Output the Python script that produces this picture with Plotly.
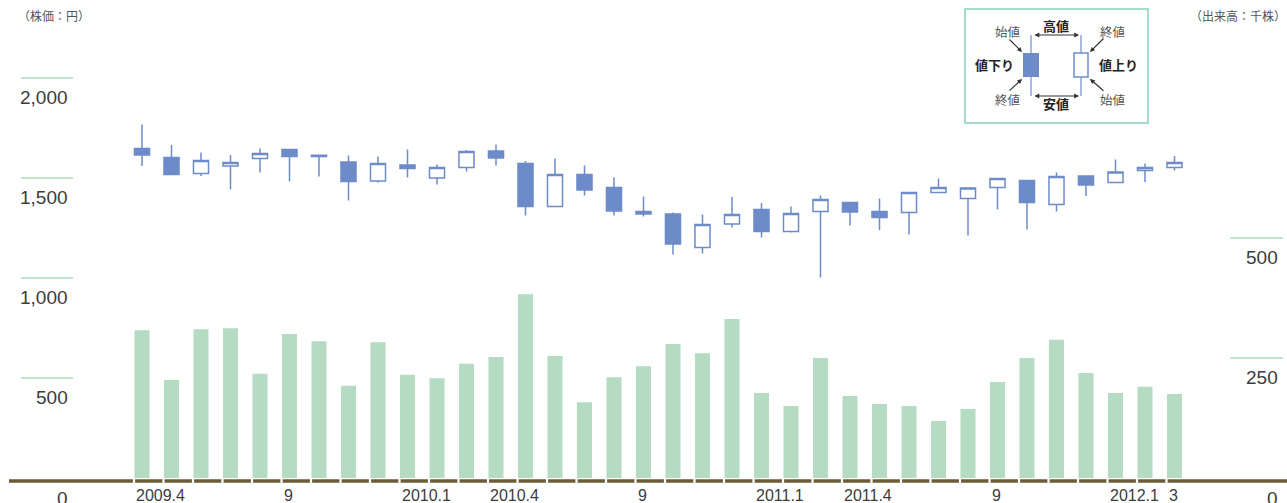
import plotly.graph_objects as go

# ---------------- data ----------------
months = list(range(36))  # 2009.4 ... 2012.3
tick_months = [0, 5, 9, 12, 17, 21, 24, 29, 33, 35]
tick_labels = ["2009.4", "9", "2010.1", "2010.4", "9", "2011.1", "2011.4", "9", "2012.1", "3"]

open_ = [1648, 1603, 1523, 1560, 1598, 1643, 1608, 1580, 1485, 1565, 1500, 1552,
         1635, 1573, 1358, 1517, 1453, 1332, 1320, 1153, 1270, 1343, 1232, 1333,
         1378, 1332, 1327, 1428, 1398, 1452, 1487, 1368, 1510, 1477, 1538, 1552]
high = [1768, 1665, 1628, 1615, 1648, 1643, 1615, 1612, 1608, 1643, 1568, 1640,
        1668, 1585, 1598, 1562, 1503, 1407, 1328, 1318, 1405, 1375, 1358, 1413,
        1378, 1397, 1428, 1498, 1450, 1498, 1487, 1528, 1510, 1593, 1572, 1610]
low = [1560, 1518, 1510, 1443, 1528, 1482, 1507, 1388, 1477, 1502, 1468, 1532,
       1563, 1312, 1358, 1412, 1313, 1307, 1118, 1123, 1252, 1202, 1228, 1002,
       1263, 1240, 1218, 1428, 1213, 1343, 1243, 1332, 1410, 1477, 1480, 1537]
close = [1615, 1518, 1588, 1578, 1623, 1607, 1614, 1482, 1572, 1547, 1552, 1633,
         1600, 1357, 1517, 1440, 1335, 1320, 1170, 1267, 1318, 1232, 1323, 1392,
         1330, 1302, 1428, 1452, 1450, 1498, 1377, 1507, 1465, 1530, 1552, 1577]
volume = [308, 204, 310, 312, 217, 300, 285, 192, 283, 215, 208, 238,
          252, 383, 254, 158, 210, 233, 279, 260, 331, 177, 150, 250,
          171, 154, 150, 119, 144, 200, 250, 288, 219, 177, 190, 175]

price_ticks = [2000, 1500, 1000, 500]
price_tick_labels = ["2,000", "1,500", "1,000", "500"]
volume_ticks = [500, 250]
volume_tick_labels = ["500", "250"]

# ---------------- geometry helpers ----------------
W, H = 1287, 503
X0PX, STEP = 142.0, 29.5


def xd(p):
    return (p - X0PX) / STEP


def px(x):
    return x / W


def py(y):
    return 1 - y / H


BLUE = "#6d8bc8"
GREEN_BAR = "#b5dbc3"
TICK_GREEN = "#aadcc2"
OLIVE = "#6b5c38"
TXT = "#3c3c3c"
JP = "Noto Sans CJK JP"
NUM = "Liberation Sans"

fig = go.Figure()

fig.add_trace(go.Bar(
    x=months, y=volume, width=0.51, marker=dict(color=GREEN_BAR, line=dict(width=0)),
    yaxis="y2", showlegend=False, hoverinfo="skip"))

fig.add_trace(go.Candlestick(
    x=months, open=open_, high=high, low=low, close=close,
    increasing=dict(fillcolor="white", line=dict(color=BLUE, width=1.5)),
    decreasing=dict(fillcolor=BLUE, line=dict(color=BLUE, width=1.5)),
    whiskerwidth=0, showlegend=False, yaxis="y"))

shapes = []
annotations = []

# baseline segmented
gaps = [i - 8 / STEP for i in months]
half = 1.1 / STEP
edges = [xd(9)]
for g in gaps:
    edges.append(g - half)
    edges.append(g + half)
edges.append(xd(W))
for k in range(0, len(edges), 2):
    shapes.append(dict(type="line", xref="x", yref="y", x0=edges[k], x1=edges[k + 1],
                       y0=-15, y1=-15, line=dict(color=OLIVE, width=3.5), layer="above"))

# left price ticks
for v, lab in zip(price_ticks, price_tick_labels):
    shapes.append(dict(type="line", xref="paper", yref="y", x0=px(21), x1=px(73),
                       y0=v, y1=v, line=dict(color=TICK_GREEN, width=1.5)))
    annotations.append(dict(x=px(70), y=v, xref="paper", yref="y", text=lab, showarrow=False,
                            xanchor="right", yanchor="middle", yshift=-19,
                            font=dict(family=NUM, size=19, color=TXT)))
annotations.append(dict(x=px(70), y=0, xref="paper", yref="y", text="0", showarrow=False,
                        xanchor="right", yanchor="middle", yshift=-20,
                        font=dict(family=NUM, size=19, color=TXT)))

# right volume ticks
for v, lab in zip(volume_ticks, volume_tick_labels):
    shapes.append(dict(type="line", xref="paper", yref="y2", x0=px(1230), x1=px(1283),
                       y0=v, y1=v, line=dict(color=TICK_GREEN, width=1.5)))
    annotations.append(dict(x=px(1280), y=v, xref="paper", yref="y2", text=lab, showarrow=False,
                            xanchor="right", yanchor="middle", yshift=-19,
                            font=dict(family=NUM, size=19, color=TXT)))
annotations.append(dict(x=px(1280), y=0, xref="paper", yref="y2", text="0", showarrow=False,
                        xanchor="right", yanchor="middle", yshift=-20,
                        font=dict(family=NUM, size=19, color=TXT)))

# month labels
for m, lab in zip(tick_months, tick_labels):
    annotations.append(dict(x=m - 0.26, y=-15, xref="x", yref="y", text=lab, showarrow=False,
                            xanchor="left", yanchor="middle", yshift=-14,
                            font=dict(family=NUM, size=16, color=TXT)))

# unit labels
annotations.append(dict(x=px(16), y=py(16), xref="paper", yref="paper", text="（株価：円）",
                        showarrow=False, xanchor="left", yanchor="middle",
                        font=dict(family=JP, size=12, color="#555")))
annotations.append(dict(x=px(1288), y=py(16), xref="paper", yref="paper", text="（出来高：千株）",
                        showarrow=False, xanchor="right", yanchor="middle",
                        font=dict(family=JP, size=12, color="#555")))

# legend box
shapes.append(dict(type="rect", xref="paper", yref="paper", x0=px(965), x1=px(1148),
                   y0=py(9), y1=py(123), line=dict(color="#86d0b8", width=1.5),
                   fillcolor="white", layer="above"))
shapes.append(dict(type="line", xref="paper", yref="paper", x0=px(1031), x1=px(1031),
                   y0=py(35), y1=py(96), line=dict(color="#a9badf", width=2), layer="above"))
shapes.append(dict(type="rect", xref="paper", yref="paper", x0=px(1023), x1=px(1039),
                   y0=py(53), y1=py(77), line=dict(width=0), fillcolor=BLUE, layer="above"))
shapes.append(dict(type="line", xref="paper", yref="paper", x0=px(1081), x1=px(1081),
                   y0=py(35), y1=py(96), line=dict(color="#a9badf", width=2), layer="above"))
shapes.append(dict(type="rect", xref="paper", yref="paper", x0=px(1074), x1=px(1088),
                   y0=py(53), y1=py(77), line=dict(color=BLUE, width=1.5), fillcolor="white",
                   layer="above"))


def arrow(tx, ty, ax, ay, both=False):
    annotations.append(dict(x=px(tx), y=py(ty), xref="paper", yref="paper", text=" ",
                            showarrow=True, ax=ax, ay=ay, arrowhead=2, arrowsize=0.8,
                            arrowwidth=1.2, arrowcolor="#333",
                            arrowside="end+start" if both else "end",
                            font=dict(size=1)))


arrow(1079, 35, -46, 0, both=True)
arrow(1079, 96, -46, 0, both=True)
arrow(1022, 52, -14, -14)
arrow(1022, 79, -14, 13)
arrow(1090, 52, 15, -15)
arrow(1090, 79, 15, 13)


def label(x, y, t, size=12.5, color="#555", bold=False):
    annotations.append(dict(x=px(x), y=py(y), xref="paper", yref="paper",
                            text=f"<b>{t}</b>" if bold else t, showarrow=False,
                            xanchor="center", yanchor="middle",
                            font=dict(family=JP, size=size, color=color)))


label(1056, 26, "高値", 13, "#222", True)
label(1056, 104, "安値", 13, "#222", True)
label(1007, 31, "始値")
label(1007, 100, "終値")
label(1112, 31, "終値")
label(1112, 100, "始値")
label(994, 65, "値下り", 13, "#222", True)
label(1118, 65, "値上り", 13, "#222", True)

fig.update_layout(
    width=W, height=H, margin=dict(l=0, r=0, t=0, b=0),
    paper_bgcolor="white", plot_bgcolor="white",
    boxgap=0.49, boxgroupgap=0,
    xaxis=dict(range=[xd(0), xd(W)], visible=False, rangeslider=dict(visible=False)),
    yaxis=dict(range=[-125, 2390], visible=False),
    yaxis2=dict(range=[-52.08, 995.83], visible=False, overlaying="y"),
    shapes=shapes, annotations=annotations, showlegend=False,
)

fig.write_html("out.html", config={"displayModeBar": False},
               post_script="document.body.style.margin='0';document.body.style.overflow='hidden';")
